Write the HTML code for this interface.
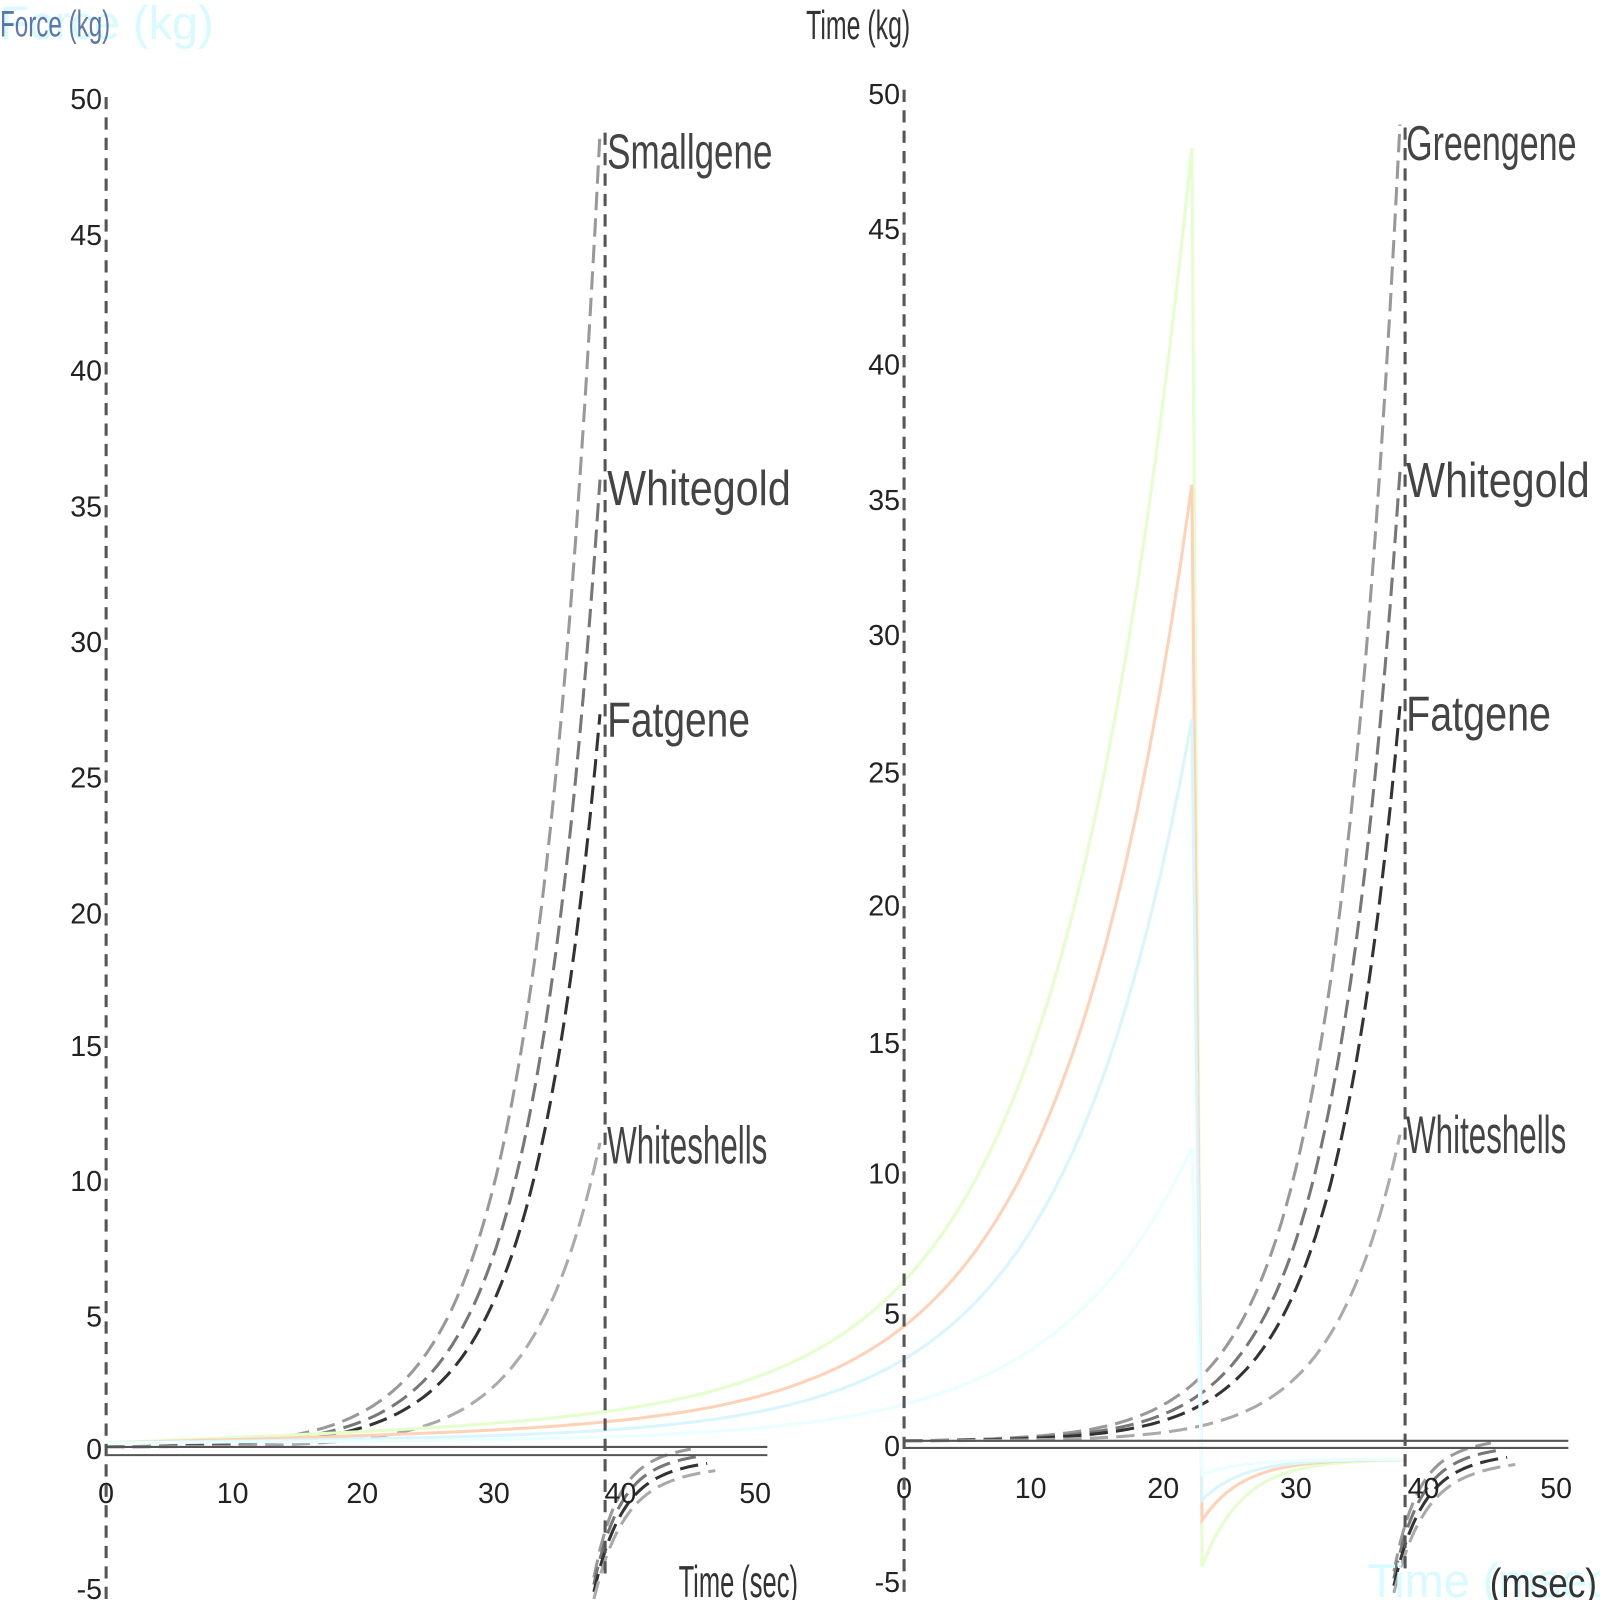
<!DOCTYPE html>
<html><head><meta charset="utf-8"><style>
html,body{margin:0;padding:0;background:#fff;width:1600px;height:1600px;overflow:hidden}
svg{display:block}
text{font-family:"Liberation Sans",sans-serif}
</style></head><body>
<svg id="s" width="1600" height="1600" xmlns="http://www.w3.org/2000/svg">
<g transform="scale(1.0204)">
<g fill="#222" font-size="28" text-anchor="end">
<text x="100" y="107">50</text><text x="100" y="240">45</text><text x="100" y="373">40</text><text x="100" y="506">35</text><text x="100" y="639">30</text><text x="100" y="772">25</text><text x="100" y="905">20</text><text x="100" y="1035">15</text><text x="100" y="1167">10</text><text x="100" y="1300">5</text><text x="100" y="1430">0</text><text x="100" y="1567">-5</text>
<text x="882" y="102">50</text><text x="882" y="234">45</text><text x="882" y="367">40</text><text x="882" y="500">35</text><text x="882" y="632">30</text><text x="882" y="767">25</text><text x="882" y="897">20</text><text x="882" y="1032">15</text><text x="882" y="1160">10</text><text x="882" y="1297">5</text><text x="882" y="1427">0</text><text x="882" y="1560">-5</text>
</g>
<g fill="#222" font-size="28" text-anchor="middle">
<text x="104" y="1473">0</text><text x="228" y="1473">10</text><text x="355" y="1473">20</text><text x="484" y="1473">30</text><text x="608" y="1473">40</text><text x="740" y="1473">50</text>
<text x="886" y="1468">0</text><text x="1010" y="1468">10</text><text x="1140" y="1468">20</text><text x="1270" y="1468">30</text><text x="1395" y="1468">40</text><text x="1525" y="1468">50</text>
</g>
<g stroke="#555" stroke-width="3" stroke-dasharray="12,8" fill="none">
<line x1="104" y1="95" x2="104" y2="1585"/><line x1="886" y1="88" x2="886" y2="1580"/>
<line x1="593" y1="130" x2="593" y2="1545"/><line x1="1377" y1="125" x2="1377" y2="1545"/>
</g>
<g stroke="#555" stroke-width="2" fill="none">
<line x1="104" y1="1418" x2="752" y2="1418"/><line x1="104" y1="1426" x2="752" y2="1426"/>
<line x1="886" y1="1412" x2="1537" y2="1412"/><line x1="886" y1="1419" x2="1537" y2="1419"/>
</g>
<g id="curves" fill="none"></g>
<g fill="#444" font-size="48">
<text x="595" y="165" textLength="162" lengthAdjust="spacingAndGlyphs">Smallgene</text><text x="595" y="495" textLength="180" lengthAdjust="spacingAndGlyphs">Whitegold</text><text x="595" y="722" textLength="140" lengthAdjust="spacingAndGlyphs">Fatgene</text><text x="595" y="1140" font-size="52" textLength="157" lengthAdjust="spacingAndGlyphs">Whiteshells</text>
<text x="1378" y="157" textLength="167" lengthAdjust="spacingAndGlyphs">Greengene</text><text x="1378" y="487" textLength="180" lengthAdjust="spacingAndGlyphs">Whitegold</text><text x="1378" y="716" textLength="142" lengthAdjust="spacingAndGlyphs">Fatgene</text><text x="1378" y="1130" font-size="52" textLength="157" lengthAdjust="spacingAndGlyphs">Whiteshells</text>
</g>
<text x="0" y="38" font-size="46" fill="#d8fbff">Force (kg)</text>
<text x="0" y="36" font-size="36" fill="#1a3f8a" opacity="0.7" textLength="108" lengthAdjust="spacingAndGlyphs">Force (kg)</text>
<text x="790" y="38" font-size="40" fill="#333" textLength="102" lengthAdjust="spacingAndGlyphs">Time (kg)</text>
<text x="665" y="1565" font-size="44" fill="#333" textLength="117" lengthAdjust="spacingAndGlyphs">Time (sec)</text>
<text x="1340" y="1565" font-size="46" fill="#d8fbff">Time (msec)</text>
<text x="1460" y="1565" font-size="40" fill="#333" textLength="105" lengthAdjust="spacingAndGlyphs">(msec)</text>
</g>
</svg>
<script>
var g=document.getElementById('curves'),NS='http://www.w3.org/2000/svg';
function P(pts,c,w,da){var p=document.createElementNS(NS,'path');p.setAttribute('d','M'+pts.map(function(a){return a[0].toFixed(1)+','+a[1].toFixed(1)}).join('L'));p.setAttribute('stroke',c);p.setAttribute('stroke-width',w);if(da)p.setAttribute('stroke-dasharray',da);g.appendChild(p);}
function expc(x0,x1,y0,y1,k,lin){lin=lin||0;var r=[];for(var i=0;i<=100;i++){var t=i/100;var f=(Math.exp(k*t)-1)/(Math.exp(k)-1);r.push([x0+(x1-x0)*t,y0-lin*t-(y0-y1-lin)*f]);}return r;}
var ends=[130,470,700,1120],cols=['#999','#777','#333','#aaa'];
[[104,588,1418],[886,1372,1412]].forEach(function(pn){
 ends.forEach(function(e,i){P(expc(pn[0],pn[1],pn[2],e+(pn[0]>800?-8:0),7.5),cols[i],3,'18,8');});
 for(var j=0;j<4;j++){var r=[];for(var q=0;q<=30;q++){var t=q/30;r.push([pn[1]-6+(95+j*8)*t,pn[2]+8+120*Math.exp(-4*t)+j*7-8*t]);}P(r,cols[j],3,'18,8');}
});
function col(peak,minY,c,k,lin){var a=expc(104,1168,1414,peak,k,lin);a.push([1178,minY]);for(var q=1;q<=40;q++){var t=q/40;a.push([1178+200*t,1430+(minY-1430)*Math.exp(-5*t)]);}P(a,c,3);}
col(145,1535,'#e4ffcc',8.5,40);col(475,1490,'#ffd2b8',8.5,25);col(705,1470,'#d9f6ff',8.5,12);col(1125,1445,'#eaffff',8,5);
var gg=document.querySelector('svg > g');gg.insertBefore(g,gg.firstChild);
</script>
</body></html>
